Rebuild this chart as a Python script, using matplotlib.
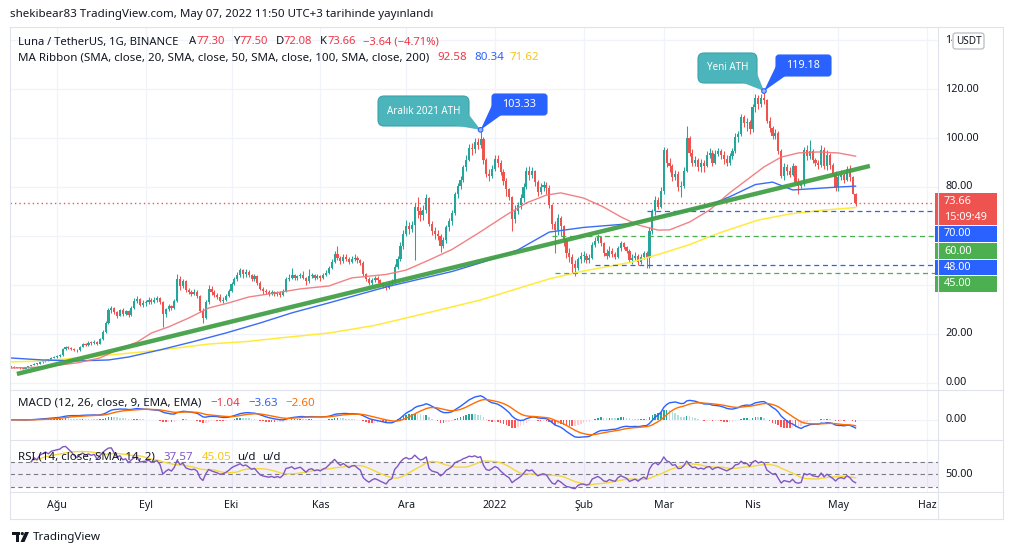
import numpy as np
import pandas as pd
import matplotlib
matplotlib.use("Agg")
import matplotlib.pyplot as plt
import matplotlib.dates as mdates
from matplotlib.transforms import Affine2D, blended_transform_factory, Bbox
from matplotlib.patches import Rectangle, FancyBboxPatch, Polygon, Circle
from matplotlib.lines import Line2D

W, H = 1012, 555
plt.rcParams['font.family'] = ['Noto Sans', 'DejaVu Sans']

# ------------------------------------------------------------------ data
first_open = 6.8
close_jul = [6.6, 6.3, 6.4, 6.1, 5.9, 6.5, 6.9, 7.3, 7.8, 7.7, 8.5, 8.9, 9.4, 9.3, 10.2, 10.6]
high_jul = [6.9, 6.8, 6.6, 6.5, 6.3, 6.7, 7.1, 7.5, 8.0, 8.1, 8.8, 9.2, 9.7, 9.8, 10.5, 11.0]
low_jul = [6.3, 6.1, 6.1, 5.9, 5.6, 5.8, 6.3, 6.8, 7.2, 7.4, 7.6, 8.3, 8.7, 8.9, 9.2, 10.0]

close_aug = [11.0, 11.4, 13.8, 14.6, 14.3, 14.0, 13.6, 13.3, 14.8, 15.9, 15.6, 16.4, 16.2, 16.8, 16.1, 17.9,
             21.0, 24.6, 29.8, 30.5, 28.9, 27.4, 29.6, 28.0, 29.2, 27.6, 30.6, 33.6, 34.2, 32.0, 32.6]
high_aug = [11.5, 11.9, 14.2, 15.3, 15.0, 14.8, 14.2, 14.0, 15.2, 16.5, 16.4, 17.0, 17.1, 17.5, 17.0, 18.5,
            21.8, 25.5, 30.8, 31.6, 31.0, 29.5, 30.4, 30.5, 29.9, 29.8, 31.5, 34.5, 35.5, 34.5, 33.8]
low_aug = [10.2, 10.6, 11.2, 13.5, 13.8, 13.4, 13.0, 12.8, 13.1, 14.6, 15.0, 15.3, 15.6, 15.9, 15.6, 15.9,
           17.6, 20.5, 24.0, 28.4, 28.0, 26.6, 27.2, 27.4, 27.6, 26.9, 27.2, 30.2, 32.8, 31.4, 31.2]

close_sep = [33.0, 34.0, 33.2, 33.8, 34.5, 33.0, 28.0, 30.0, 31.5, 30.5, 33.5, 42.5, 39.5, 41.5, 38.0,
             37.0, 36.5, 37.0, 35.5, 29.5, 26.5, 33.0, 38.5, 37.0, 36.0, 35.0, 33.5, 34.0, 35.5, 37.5]
high_sep = [33.9, 35.2, 34.6, 34.9, 35.4, 35.0, 33.5, 30.8, 32.4, 32.0, 34.2, 44.5, 43.6, 42.6, 42.0,
            38.8, 37.8, 38.2, 37.8, 36.0, 30.5, 33.8, 39.8, 39.5, 37.8, 36.8, 36.2, 35.2, 36.4, 38.4]
low_sep = [31.6, 32.4, 32.4, 32.8, 33.2, 32.4, 22.8, 26.8, 29.2, 29.6, 30.0, 33.0, 38.0, 38.6, 37.2,
           36.2, 35.6, 35.8, 34.8, 28.8, 24.5, 26.0, 32.4, 35.8, 35.2, 34.4, 33.0, 32.8, 33.6, 35.0]

close_oct = [40.5, 42.5, 44.0, 46.0, 44.5, 45.5, 44.0, 42.5, 43.5, 41.0, 38.5, 37.5, 37.0, 36.5, 37.0, 36.2,
             36.8, 36.0, 37.5, 42.5, 43.0, 44.0, 42.8, 43.5, 44.2, 43.0, 41.5, 43.5, 44.0, 43.0, 43.5]
high_oct = [41.2, 43.4, 45.2, 46.8, 46.6, 46.5, 46.2, 44.6, 44.4, 44.2, 41.6, 39.0, 38.4, 37.8, 38.0, 37.6,
            37.6, 37.4, 38.2, 43.4, 44.6, 47.0, 44.6, 44.2, 45.0, 45.6, 43.4, 46.5, 45.0, 44.4, 44.6]
low_oct = [37.0, 39.8, 41.8, 43.4, 43.0, 43.2, 43.2, 41.8, 41.6, 40.2, 37.8, 36.4, 36.2, 35.6, 35.8, 35.6,
           35.4, 35.2, 35.6, 37.0, 41.6, 42.6, 42.0, 42.2, 42.8, 42.4, 40.2, 41.0, 42.8, 42.2, 42.4]

close_nov = [43.0, 44.2, 45.0, 47.0, 49.5, 52.5, 51.0, 49.8, 51.5, 50.5, 49.5, 50.8, 51.2, 50.0, 49.0,
             44.5, 42.5, 40.8, 42.0, 42.8, 42.0, 40.8, 39.8, 38.6, 40.5, 41.2, 47.5, 50.5, 56.0, 61.0]
high_nov = [44.0, 45.0, 46.2, 47.8, 50.5, 54.0, 56.0, 52.0, 52.6, 52.8, 51.5, 51.8, 52.5, 51.8, 50.8,
            49.8, 45.0, 43.2, 43.0, 43.6, 43.5, 42.6, 41.2, 40.8, 41.5, 42.6, 48.5, 51.8, 57.5, 62.6]
low_nov = [41.8, 42.4, 43.6, 44.6, 46.6, 49.0, 50.0, 48.4, 48.8, 49.6, 48.6, 48.8, 49.8, 49.0, 48.2,
           43.8, 41.6, 39.8, 40.0, 41.2, 40.8, 40.0, 38.8, 37.8, 38.2, 39.8, 40.8, 46.4, 49.6, 54.6]

close_dec = [64.0, 63.0, 64.5, 72.0, 70.0, 68.5, 70.5, 75.5, 65.0, 62.0, 61.0, 60.0, 56.0, 58.5, 63.5, 66.0,
             69.5, 77.0, 80.5, 83.0, 88.0, 91.0, 96.0, 95.5, 98.5, 97.0, 99.5, 91.0, 85.5, 84.5, 87.5]
high_dec = [66.5, 65.8, 66.0, 73.5, 75.8, 72.0, 72.5, 77.0, 76.0, 66.0, 63.5, 62.5, 60.8, 59.5, 64.5, 67.5,
            70.5, 78.0, 81.5, 84.5, 89.0, 93.0, 97.5, 97.8, 100.2, 100.0, 103.33, 100.5, 92.0, 87.5, 89.0]
low_dec = [60.0, 61.0, 61.5, 50.0, 67.5, 66.0, 66.5, 69.5, 64.0, 60.5, 58.8, 58.5, 53.5, 55.0, 57.0, 62.0,
           64.5, 68.5, 75.5, 79.0, 82.0, 86.5, 90.5, 93.0, 94.0, 95.5, 96.0, 89.5, 84.0, 82.5, 83.5]

close_jan = [91.5, 90.0, 86.0, 82.5, 79.0, 76.0, 67.0, 70.0, 72.5, 75.5, 80.0, 86.5, 85.0, 86.5, 82.0, 78.0,
             80.0, 81.0, 79.5, 72.5, 65.0, 62.5, 67.5, 64.0, 58.5, 53.0, 51.5, 48.5, 47.0, 50.5, 52.0]
high_jan = [93.0, 93.2, 91.0, 87.5, 83.5, 79.5, 76.5, 72.5, 74.0, 77.0, 81.5, 88.0, 88.5, 88.0, 87.0, 83.0,
            81.5, 82.5, 82.0, 81.0, 73.0, 66.0, 69.0, 68.0, 64.5, 59.0, 55.0, 52.5, 50.0, 51.5, 53.5]
low_jan = [86.5, 88.0, 85.0, 81.0, 76.5, 74.5, 62.0, 65.5, 69.0, 71.0, 74.0, 79.0, 83.0, 83.5, 80.5, 76.5,
           77.0, 78.5, 77.0, 71.5, 63.0, 53.0, 60.5, 60.0, 56.0, 51.0, 49.5, 45.0, 43.5, 46.0, 49.0]

close_feb = [52.0, 50.0, 51.0, 56.5, 58.0, 59.5, 57.0, 53.0, 52.0, 54.0, 52.5, 51.5, 55.0, 57.0,
             55.5, 54.0, 50.0, 51.0, 52.0, 49.5, 51.5, 53.0, 51.0, 62.0, 70.0, 74.5, 72.0, 78.5]
high_feb = [54.0, 53.0, 52.5, 57.5, 59.5, 61.0, 60.0, 57.5, 54.5, 56.0, 55.0, 53.5, 56.0, 58.0,
            57.5, 56.0, 54.5, 52.5, 53.5, 52.5, 52.5, 54.0, 54.0, 63.5, 71.0, 76.5, 76.0, 80.0]
low_feb = [49.5, 49.0, 49.0, 50.5, 55.5, 57.0, 56.0, 52.0, 50.5, 51.5, 51.5, 50.5, 51.0, 54.0,
           54.5, 53.0, 49.5, 48.5, 50.0, 48.0, 48.5, 50.5, 47.0, 47.0, 61.0, 68.5, 71.0, 71.5]

close_mar = [95.0, 90.0, 88.5, 84.0, 85.5, 80.0, 80.5, 86.5, 100.0, 94.0, 90.0, 91.0, 88.0, 90.0, 88.5, 93.0,
             94.0, 90.0, 93.5, 94.5, 93.0, 91.5, 90.0, 92.5, 94.5, 100.5, 101.5, 108.5, 106.0, 106.5, 103.5]
high_mar = [96.5, 96.0, 92.0, 89.5, 87.0, 86.5, 82.5, 88.0, 105.0, 101.0, 95.5, 92.5, 92.0, 91.5, 91.0, 94.5,
            96.0, 95.0, 95.0, 96.0, 95.5, 94.5, 93.0, 94.0, 96.0, 102.0, 103.0, 110.0, 109.5, 108.0, 107.5]
low_mar = [77.0, 88.0, 86.0, 82.5, 83.0, 78.5, 76.0, 79.5, 86.0, 92.5, 88.5, 88.5, 86.5, 86.0, 86.0, 88.0,
           92.0, 88.5, 89.5, 92.5, 91.5, 89.5, 88.5, 89.0, 91.5, 94.0, 98.5, 101.0, 104.5, 103.0, 101.5]

close_apr = [112.5, 116.5, 114.0, 116.5, 115.5, 107.0, 104.0, 101.0, 102.0, 94.5, 84.5, 88.0, 86.5, 85.0, 88.5,
             82.0, 80.5, 81.5, 95.0, 92.5, 94.5, 91.0, 90.0, 89.0, 95.0, 88.5, 93.0, 89.0, 85.5, 80.0]
high_apr = [114.0, 118.0, 117.5, 118.0, 119.18, 116.0, 108.5, 105.0, 103.5, 103.0, 95.5, 90.0, 89.5, 88.0, 90.0,
            89.0, 83.5, 82.5, 96.5, 97.0, 99.0, 95.5, 92.0, 91.0, 97.0, 96.5, 95.0, 94.0, 90.0, 86.5]
low_apr = [102.5, 110.5, 112.0, 112.5, 114.0, 106.0, 102.5, 99.5, 99.5, 93.5, 83.5, 83.0, 85.0, 84.0, 84.5,
           81.0, 77.0, 79.5, 80.5, 91.0, 91.5, 90.0, 88.5, 87.5, 88.0, 87.5, 87.0, 87.5, 84.5, 78.5]

close_may = [84.0, 85.0, 83.0, 87.5, 84.0, 77.3, 73.66]
high_may = [85.5, 87.0, 86.0, 88.5, 89.0, 84.5, 77.50]
low_may = [78.5, 83.0, 81.5, 82.5, 82.5, 77.0, 72.08]

# moving averages of the MA Ribbon
ma_red_dates = ['2021-07-16', '2021-07-27', '2021-08-08', '2021-08-16', '2021-08-22', '2021-08-29', '2021-09-03',
                '2021-09-09', '2021-09-16', '2021-09-23', '2021-09-30', '2021-10-07', '2021-10-16', '2021-10-25',
                '2021-11-04', '2021-11-12', '2021-11-24', '2021-12-01', '2021-12-09', '2021-12-17', '2021-12-26',
                '2022-01-05', '2022-01-12', '2022-01-19', '2022-01-24', '2022-02-01', '2022-02-08', '2022-02-14',
                '2022-02-20', '2022-02-27', '2022-03-03', '2022-03-10', '2022-03-17', '2022-03-24', '2022-03-30',
                '2022-04-05', '2022-04-11', '2022-04-17', '2022-04-24', '2022-05-01', '2022-05-07']
ma_red_vals = [6.1, 6.5, 8.2, 10.2, 13.5, 16.7, 20.4, 22.9, 26.5, 30.6, 32.7, 35.1, 36.7, 38.4,
               39.6, 42.9, 44.3, 46.1, 50.2, 54.5, 61.0, 68.6, 73.5, 76.7, 77.6, 75.5, 71.8, 67.8,
               64.5, 62.4, 62.5, 65.7, 70.6, 77.6, 82.9, 88.2, 92.2, 93.9, 94.3, 93.9, 92.58]
ma_blue_dates = ['2021-07-16', '2021-07-27', '2021-08-08', '2021-08-19', '2021-08-26', '2021-09-06', '2021-09-17',
                 '2021-09-29', '2021-10-11', '2021-10-22', '2021-11-04', '2021-11-24', '2021-12-17', '2021-12-28',
                 '2022-01-09', '2022-01-20', '2022-02-01', '2022-02-17', '2022-02-24', '2022-03-03', '2022-03-16',
                 '2022-03-24', '2022-04-02', '2022-04-08', '2022-04-15', '2022-04-22', '2022-05-01', '2022-05-07']
ma_blue_vals = [10.2, 9.4, 9.0, 9.4, 10.6, 13.5, 16.7, 20.4, 24.5, 28.6, 32.7, 39.2, 45.5, 49.4,
                54.3, 61.6, 63.5, 65.0, 67.0, 69.0, 72.2, 76.0, 81.0, 82.0, 78.8, 79.3, 80.0, 80.34]
ma_yellow_dates = ['2021-07-16', '2021-07-27', '2021-08-08', '2021-08-19', '2021-08-31', '2021-09-12',
                   '2021-09-23', '2021-10-07', '2021-10-18', '2021-11-04', '2021-11-20', '2021-12-08',
                   '2021-12-27', '2022-01-20', '2022-01-31', '2022-02-18', '2022-03-02', '2022-03-10',
                   '2022-03-21', '2022-04-03', '2022-04-14', '2022-04-26', '2022-05-07']
ma_yellow_vals = [8.6, 9.0, 10.2, 11.4, 12.7, 14.3, 15.9, 17.0, 18.4, 20.4, 23.5, 28.5,
                  33.9, 42.5, 45.5, 49.4, 53.5, 56.5, 61.5, 66.5, 69.0, 70.6, 71.62]

trend_dates = ['2021-07-18', '2022-05-12']
trend_vals = [3.7, 88.6]

level_vals = [70.0, 60.0, 48.0, 45.0]
level_starts = ['2022-02-23', '2022-01-21', '2022-02-05', '2022-01-22']

ath_dates = ['2021-12-27', '2022-04-05']
ath_vals = [103.33, 119.18]
ath_notes = ['Aralık 2021 ATH', 'Yeni ATH']

month_dates = ['2021-08-01', '2021-09-01', '2021-10-01', '2021-11-01', '2021-12-01', '2022-01-01',
               '2022-02-01', '2022-03-01', '2022-04-01', '2022-05-01', '2022-06-01']
month_labels = ['Ağu', 'Eyl', 'Eki', 'Kas', 'Ara', '2022', 'Şub', 'Mar', 'Nis', 'May', 'Haz']
price_ticks = [0, 20, 80, 100, 120]
hidden_tick = 140
last_price = 73.66

# ------------------------------------------------------------------ assemble
close = np.array(close_jul + close_aug + close_sep + close_oct + close_nov + close_dec +
                 close_jan + close_feb + close_mar + close_apr + close_may)
high = np.array(high_jul + high_aug + high_sep + high_oct + high_nov + high_dec +
                high_jan + high_feb + high_mar + high_apr + high_may)
low = np.array(low_jul + low_aug + low_sep + low_oct + low_nov + low_dec +
               low_jan + low_feb + low_mar + low_apr + low_may)
assert len(close) == len(high) == len(low) == 296
dates = pd.date_range('2021-07-16', periods=len(close), freq='D')
opens = np.concatenate([[first_open], close[:-1]])
high = np.maximum(high, np.maximum(opens, close))
low = np.minimum(low, np.minimum(opens, close))
xd = mdates.date2num(dates.values)

def dn(lst):
    return mdates.date2num(pd.to_datetime(lst).values)

aug1 = mdates.date2num(np.datetime64('2021-08-01'))
XL = (aug1 - 16.4, aug1 + 307.8)

# ------------------------------------------------------------------ figure
fig = plt.figure(figsize=(W / 100, H / 100), dpi=100)
fig.patch.set_facecolor('white')
PX = Affine2D().scale(1, -1).translate(0, H)
DARK = '#131722'
GRID = '#f0f3fa'
SEP = '#e0e3eb'
UP, DOWN = '#26a69a', '#ef5350'

def px_axes(x0, y0, x1, y1):
    a = fig.add_axes([x0 / W, 1 - y1 / H, (x1 - x0) / W, (y1 - y0) / H])
    a.set_facecolor('none')
    for s in a.spines.values():
        s.set_visible(False)
    a.set_xticks([])
    a.set_yticks([])
    a.set_xlim(*XL)
    return a

ax = px_axes(10, 28, 938, 390)
ax_macd = px_axes(10, 390, 938, 440)
ax_rsi = px_axes(10, 440, 938, 492)
ax_time = px_axes(10, 492, 938, 519)
ax.set_ylim(-2.86, 144.9)

# grid
for a in (ax, ax_macd, ax_rsi):
    for m in dn(month_dates):
        a.axvline(m, color=GRID, lw=0.9, zorder=0)
for v in range(0, 141, 20):
    ax.axhline(v, color=GRID, lw=0.9, zorder=0)

# candles
cols = np.where(close >= opens, UP, DOWN)
ax.vlines(xd, low, high, colors=cols, lw=0.75, zorder=2)
body_lo = np.minimum(opens, close)
body_h = np.maximum(np.abs(close - opens), 0.35)
ax.bar(xd, body_h, bottom=body_lo, width=0.75, color=cols, linewidth=0, zorder=3)

# moving averages
ax.plot(dn(ma_yellow_dates), ma_yellow_vals, color='#ffeb3b', lw=1.1, zorder=4)
ax.plot(dn(ma_blue_dates), ma_blue_vals, color='#3a6cf4', lw=1.0, zorder=4)
ax.plot(dn(ma_red_dates), ma_red_vals, color='#f07478', lw=1.0, alpha=0.9, zorder=4)
ax.plot(dn(trend_dates), trend_vals, color='#43a047', lw=3.2, solid_capstyle='butt', zorder=5, alpha=0.95)

# levels
ax.axhline(last_price, color='#ef5350', lw=1.0, ls=(0, (1, 2.2)), zorder=4)
lvl_cols = ['#2962ff', '#4caf50', '#2962ff', '#4caf50']
for v, s, c in zip(level_vals, dn(level_starts), lvl_cols):
    ax.hlines(v, s, XL[1], colors=c, lw=0.9, linestyles=(0, (4, 3)), zorder=4)

# MACD
cs = pd.Series(close)
ema12 = cs.ewm(span=12, adjust=False).mean()
ema26 = cs.ewm(span=26, adjust=False).mean()
macd = ema12 - ema26
signal = macd.ewm(span=9, adjust=False).mean()
hist = (macd - signal).values
prev = np.concatenate([[0], hist[:-1]])
hcols = np.where(hist >= 0, np.where(hist > prev, '#26a69a', '#b2dfdb'),
                 np.where(hist < prev, '#ff5252', '#ffcdd2'))
ax_macd.bar(xd, hist, width=0.55, color=hcols, linewidth=0, zorder=2)
ax_macd.plot(xd, macd.values, color='#2962ff', lw=1.0, zorder=3)
ax_macd.plot(xd, signal.values, color='#ff6d00', lw=1.0, zorder=3)
ax_macd.axhline(0, color=GRID, lw=0.9, zorder=0)
top = max(np.abs(macd.values).max(), np.abs(signal.values).max()) * 31 / 25
ax_macd.set_ylim(-top * 21 / 31, top)

# RSI
delta = cs.diff()
gain = delta.clip(lower=0).ewm(alpha=1 / 14, adjust=True, min_periods=7).mean()
loss = (-delta.clip(upper=0)).ewm(alpha=1 / 14, adjust=True, min_periods=7).mean()
rsi = 100 - 100 / (1 + gain / loss)
rsi_ma = rsi.rolling(14, min_periods=1).mean()
ax_rsi.set_ylim(22, 105)
ax_rsi.axhspan(30, 70, color='#7e57c2', alpha=0.09, lw=0, zorder=0)
for v in (70, 50, 30):
    ax_rsi.axhline(v, color='#787b86', lw=0.8, ls=(0, (4, 3)), zorder=1)
ax_rsi.plot(xd, rsi_ma.values, color='#f5d83a', lw=1.0, zorder=2)
ax_rsi.plot(xd, rsi.values, color='#7e57c2', lw=1.0, zorder=3)

# time axis labels
for m, lab in zip(dn(month_dates), month_labels):
    ax_time.text(m, 0.5, lab, transform=blended_transform_factory(ax_time.transData, ax_time.transAxes),
                 ha='center', va='center', fontsize=7.6, color=DARK,
                 fontweight='bold' if lab == '2022' else 'normal', clip_on=True)

# ------------------------------------------------------------------ frame & separators
def pline(x0, y0, x1, y1, c=SEP, lw=0.8):
    fig.add_artist(Line2D([x0, x1], [y0, y1], transform=PX, color=c, lw=lw))

pline(10, 27, 1003, 27)
pline(10, 519, 1003, 519)
pline(10, 27, 10, 519)
pline(1003, 27, 1003, 519)
pline(938, 27, 938, 519)
for yy in (390, 440, 492):
    pline(10, yy, 1003, yy)

# right price axis labels
ytr = blended_transform_factory(PX, ax.transData)
for v in price_ticks:
    fig.text(945, v, f'{v:.2f}', transform=ytr, ha='left', va='center', fontsize=7.8, color=DARK)
t140 = fig.text(945, hidden_tick, f'{hidden_tick:.2f}', transform=ytr, ha='left', va='center',
                fontsize=7.8, color=DARK)
t140.set_clip_box(Bbox([[940, H - 52], [952, H - 28]]))
t140.set_clip_on(True)
fig.text(945, 0, '0.00', transform=blended_transform_factory(PX, ax_macd.transData),
         ha='left', va='center', fontsize=7.8, color=DARK)
fig.text(945, 50, '50.00', transform=blended_transform_factory(PX, ax_rsi.transData),
         ha='left', va='center', fontsize=7.8, color=DARK)

# USDT box
fig.add_artist(FancyBboxPatch((953, 33), 31, 16, boxstyle='round,pad=0,rounding_size=2.5',
                              transform=PX, fc='white', ec='#b2b5be', lw=0.8, zorder=10))
fig.text(968.5, 41.5, 'USDT', transform=PX, ha='center', va='center', fontsize=7.2, color=DARK, zorder=11)

# value boxes on the price axis
def vbox(y0, y1, color, lines):
    fig.add_artist(Rectangle((935, y0), 62, y1 - y0, transform=PX, fc=color, ec='none'))
    n = len(lines)
    for i, s in enumerate(lines):
        yy = y0 + (y1 - y0) * (i + 0.5) / n
        fig.text(944, yy, s, transform=PX, ha='left', va='center', fontsize=7.8, color='white')

vbox(193, 225, '#ef5350', [f'{last_price:.2f}', '15:09:49'])
vbox(226, 242, '#2962ff', [f'{level_vals[0]:.2f}'])
vbox(243, 259, '#4caf50', [f'{level_vals[1]:.2f}'])
vbox(260, 275, '#2962ff', [f'{level_vals[2]:.2f}'])
vbox(276, 292, '#4caf50', [f'{level_vals[3]:.2f}'])

# ------------------------------------------------------------------ texts
renderer = fig.canvas.get_renderer()

def rich(x, y, parts, size):
    for s, c, gap in parts:
        t = fig.text(x, y, s, transform=PX, ha='left', va='center', fontsize=size, color=c, zorder=20)
        x += t.get_window_extent(renderer).width + gap

RED = '#f23645'
fig.text(10, 15, 'shekibear83 TradingView.com, May 07, 2022 11:50 UTC+3 tarihinde yayınlandı',
         transform=PX, ha='left', va='center', fontsize=8.3, color=DARK)
rich(18, 42, [('Luna / TetherUS, 1G, BINANCE', DARK, 11), ('A', DARK, 0), ('77.30', RED, 8),
              ('Y', DARK, 0), ('77.50', RED, 8), ('D', DARK, 0), ('72.08', RED, 8),
              ('K', DARK, 0), ('73.66', RED, 7), ('−3.64 (−4.71%)', RED, 0)], 8.1)
rich(18, 58, [('MA Ribbon (SMA, close, 20, SMA, close, 50, SMA, close, 100, SMA, close, 200)', DARK, 8),
              ('92.58', RED, 7), ('80.34', '#2962ff', 6), ('71.62', '#f5c518', 0)], 8.3)
rich(18, 403, [('MACD (12, 26, close, 9, EMA, EMA)', DARK, 9), ('−1.04', RED, 8),
               ('−3.63', '#2962ff', 8), ('−2.60', '#ff6d00', 0)], 8.3)
rich(18, 457, [('RSI (14, close, SMA, 14, 2)', DARK, 9), ('37.57', '#7e57c2', 8),
               ('45.05', '#f5c518', 6), ('u/d', DARK, 6), ('u/d', DARK, 0)], 8.3)

# ------------------------------------------------------------------ callouts
TEAL = '#4cb5bc'
BLUE = '#2962ff'

def tip_px(date, val):
    X, Y = ax.transData.transform((dn([date])[0], val))
    return X, H - Y

def box(x0, y0, x1, y1, fc, ec, r):
    fig.add_artist(FancyBboxPatch((x0, y0), x1 - x0, y1 - y0, boxstyle=f'round,pad=0,rounding_size={r}',
                                  transform=PX, fc=fc, ec=ec, lw=0.8, zorder=30))

def tail(p1, p2, tip, fc):
    fig.add_artist(Polygon([p1, p2, tip], closed=True, transform=PX, fc=fc, ec='none', zorder=31))

# December ATH
tx, ty = tip_px(ath_dates[0], ath_vals[0])
box(378, 96, 469, 126, TEAL, '#3aa3aa', 6)
tail((455, 125.4), (468.4, 114), (tx, ty), TEAL)
fig.text(423.5, 111, ath_notes[0], transform=PX, ha='center', va='center', fontsize=7.1,
         fontweight='bold', color='white', zorder=32)
box(492, 94, 547, 115, BLUE, BLUE, 3)
tail((492.5, 104), (502, 114.5), (tx, ty), BLUE)
fig.text(519.5, 104.5, f'{ath_vals[0]:.2f}', transform=PX, ha='center', va='center', fontsize=7.8,
         fontweight='bold', color='white', zorder=32)
fig.add_artist(Circle((tx, ty), 2.3, transform=PX, fc='#9fb6ff', ec=BLUE, lw=0.8, zorder=33))

# April ATH
tx, ty = tip_px(ath_dates[1], ath_vals[1])
box(698, 53, 757, 83, TEAL, '#3aa3aa', 6)
tail((742, 82.4), (756.4, 72), (tx, ty), TEAL)
fig.text(727.5, 68, ath_notes[1], transform=PX, ha='center', va='center', fontsize=7.1,
         fontweight='bold', color='white', zorder=32)
box(776, 55, 831, 76, BLUE, BLUE, 3)
tail((776.5, 65), (786, 75.5), (tx, ty), BLUE)
fig.text(803.5, 65.5, f'{ath_vals[1]:.2f}', transform=PX, ha='center', va='center', fontsize=7.8,
         fontweight='bold', color='white', zorder=32)
fig.add_artist(Circle((tx, ty), 2.3, transform=PX, fc='#9fb6ff', ec=BLUE, lw=0.8, zorder=33))

# ------------------------------------------------------------------ TradingView logo
fig.add_artist(Rectangle((12, 532), 8, 3, transform=PX, fc=DARK, ec='none'))
fig.add_artist(Rectangle((15.5, 532), 3.2, 10, transform=PX, fc=DARK, ec='none'))
fig.add_artist(Circle((22.3, 533.6), 1.6, transform=PX, fc=DARK, ec='none'))
fig.add_artist(Polygon([(25, 532), (29, 532), (24.5, 542), (20.5, 542)], closed=True,
                       transform=PX, fc=DARK, ec='none'))
fig.text(33, 537.5, 'TradingView', transform=PX, ha='left', va='center', fontsize=8.4, color=DARK)

fig.savefig('out.png', dpi=100, facecolor='white')
